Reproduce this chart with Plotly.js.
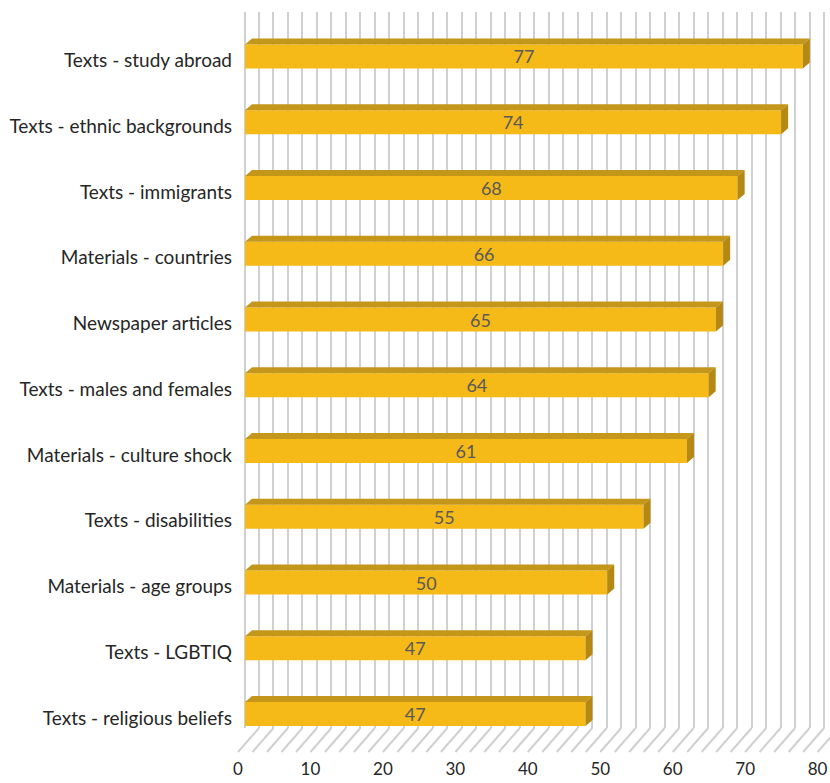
<!DOCTYPE html>
<html>
<head>
<meta charset="utf-8">
<script src="https://cdn.plot.ly/plotly-3.0.1.min.js"></script>
<style>html,body{margin:0;padding:0;background:#fff;}#chart{width:830px;height:783px;}</style>
</head>
<body>
<div id="chart"></div>
<script>
// ---- data ----
const categories = [
  "Texts - study abroad",
  "Texts - ethnic backgrounds",
  "Texts - immigrants",
  "Materials - countries",
  "Newspaper articles",
  "Texts - males and females",
  "Materials - culture shock",
  "Texts - disabilities",
  "Materials - age groups",
  "Texts - LGBTIQ",
  "Texts - religious beliefs"
];
const values = [77, 74, 68, 66, 65, 64, 61, 55, 50, 47, 47];
const tickValsX = [0, 10, 20, 30, 40, 50, 60, 70, 80];

// ---- geometry (pixels) ----
const W = 830, H = 783;
const K = 7.245;              // px per unit
const plotLeft = 237;
const plotW = W - plotLeft;
const barZero = 245;          // front face x of value 0
const wallZero = 259;         // back wall x of value 0
const labelZero = 238;        // front floor edge x of value 0
const wallTop = 12, wallBottom = 728, floorFront = 752;
const barTopPx = 23.6, barBotPx = 746.9;
const slot = (barBotPx - barTopPx) / categories.length;
const barWidth = 0.365;
const depthX = 7 / K;                       // units
const depthY = 6 / slot;
const labelShift = 4 / slot;                // category labels sit a little lower

const FONT = 'Lato, Carlito, sans-serif';
const px2paperY = p => (H - p) / H;
const rangeFor = zeroPx => { const r0 = (plotLeft - zeroPx) / K; return [r0, r0 + plotW / K]; };

const idx = categories.map((c, i) => i);

// top and side faces of the 3D bars
const topX = [], topY = [], sideX = [], sideY = [];
values.forEach((v, i) => {
  const yt = i - barWidth / 2, yb = i + barWidth / 2;
  topX.push(0, v, v + depthX, depthX, 0, null);
  topY.push(yt, yt, yt - depthY, yt - depthY, yt, null);
  sideX.push(v, v + depthX, v + depthX, v, v, null);
  sideY.push(yt, yt - depthY, yb - depthY, yb, yt, null);
});

// floor diagonal lines
const floorShapes = [];
for (let g = 0; g <= 80; g += 2) {
  floorShapes.push({
    type: 'line', xref: 'x', yref: 'paper', layer: 'below',
    x0: g, y0: px2paperY(wallBottom),
    x1: g - (wallZero - labelZero) / K, y1: px2paperY(floorFront),
    line: {color: '#d0d0d0', width: 2}
  });
}

const traces = [
  {type: 'scatter', x: [0], y: [0.5], xaxis: 'x', yaxis: 'y', mode: 'markers',
   marker: {opacity: 0}, showlegend: false, hoverinfo: 'skip'},
  {type: 'bar', orientation: 'h', x: values, y: idx, xaxis: 'x2', yaxis: 'y2',
   width: barWidth, marker: {color: '#F5B918', line: {width: 0}},
   text: values.map(String), textposition: 'inside', insidetextanchor: 'middle',
   constraintext: 'none', textangle: 0,
   insidetextfont: {family: FONT, size: 18, color: '#595959'},
   showlegend: false, hoverinfo: 'skip'},
  {type: 'scatter', x: topX, y: topY, xaxis: 'x2', yaxis: 'y2', mode: 'lines',
   fill: 'toself', fillcolor: '#C4961A', line: {width: 0, color: '#C4961A'},
   connectgaps: false, showlegend: false, hoverinfo: 'skip'},
  {type: 'scatter', x: sideX, y: sideY, xaxis: 'x2', yaxis: 'y2', mode: 'lines',
   fill: 'toself', fillcolor: '#B48812', line: {width: 0, color: '#B48812'},
   connectgaps: false, showlegend: false, hoverinfo: 'skip'},
  {type: 'scatter', x: [0], y: [0], xaxis: 'x3', yaxis: 'y2', mode: 'markers',
   marker: {opacity: 0}, showlegend: false, hoverinfo: 'skip'},
  {type: 'scatter', x: [0], y: [0], xaxis: 'x2', yaxis: 'y3', mode: 'markers',
   marker: {opacity: 0}, showlegend: false, hoverinfo: 'skip'}
];

const dom = [plotLeft / W, 1];
const yDom = [px2paperY(barBotPx), px2paperY(barTopPx)];
const layout = {
  width: W, height: H,
  margin: {l: 0, r: 0, t: 0, b: 0, pad: 0},
  paper_bgcolor: '#ffffff', plot_bgcolor: 'rgba(0,0,0,0)',
  showlegend: false, hovermode: false,
  font: {family: FONT, size: 18, color: '#262626'},
  xaxis: {domain: dom, range: rangeFor(wallZero), anchor: 'y',
    showgrid: true, dtick: 2, tick0: 0, gridcolor: '#d0d0d0', gridwidth: 2,
    showticklabels: false, zeroline: false, showline: false, ticks: ''},
  yaxis: {domain: [px2paperY(wallBottom), px2paperY(wallTop)], range: [0, 1], anchor: 'x',
    showgrid: false, showticklabels: false, zeroline: false, showline: false},
  xaxis2: {domain: dom, range: rangeFor(barZero), anchor: 'y2',
    showgrid: false, showticklabels: false, zeroline: false, showline: false, ticks: ''},
  yaxis2: {domain: yDom, range: [categories.length - 0.5, -0.5],
    anchor: 'x2', showticklabels: false,
    showgrid: false, zeroline: false, showline: false, ticks: ''},
  yaxis3: {domain: yDom, overlaying: 'y2', anchor: 'x2', side: 'left',
    range: [categories.length - 0.5 - labelShift, -0.5 - labelShift],
    tickmode: 'array', tickvals: idx, ticktext: categories,
    showgrid: false, zeroline: false, showline: false, ticks: '', ticklabelstandoff: 4,
    tickfont: {family: FONT, size: 19, color: '#262626'}},
  xaxis3: {domain: dom, range: rangeFor(labelZero), overlaying: 'x2', anchor: 'free',
    position: px2paperY(757), side: 'bottom', tickmode: 'array', tickvals: tickValsX,
    ticktext: tickValsX.map(String), showgrid: false, zeroline: false, showline: false, ticks: '',
    tickfont: {family: FONT, size: 17, color: '#262626'}},
  shapes: floorShapes
};

Plotly.newPlot('chart', traces, layout, {staticPlot: true, displayModeBar: false});
</script>
</body>
</html>
